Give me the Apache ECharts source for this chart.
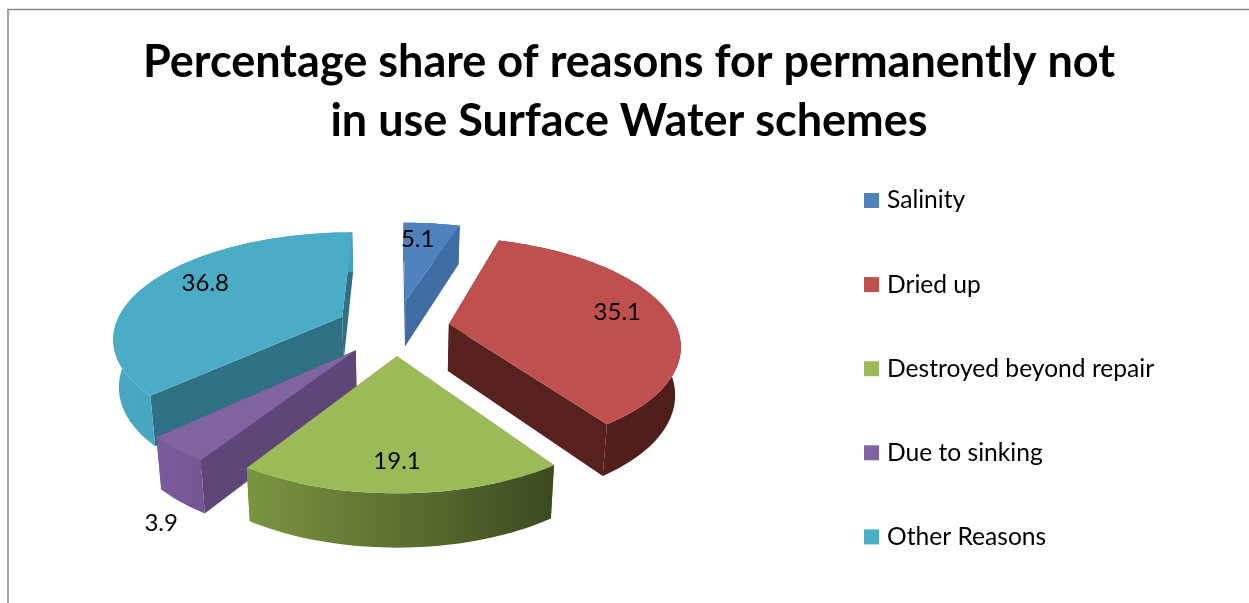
<!DOCTYPE html>
<html>
<head>
<meta charset="utf-8">
<title>Surface Water schemes</title>
<style>
  html, body { margin: 0; padding: 0; background: #ffffff; }
  #chart { width: 1249px; height: 603px; }
</style>
<script src="https://cdn.jsdelivr.net/npm/echarts@6/dist/echarts.min.js"></script>
</head>
<body>
<div id="chart"></div>
<script>
// chart data
var categories = ['Salinity', 'Dried up', 'Destroyed beyond repair', 'Due to sinking', 'Other Reasons'];
var shares = [5.1, 35.1, 19.1, 3.9, 36.8];
var chartTitle = 'Percentage share of reasons for permanently not\nin use Surface Water schemes';

// slice colours
var topColors = ['#4F81BD', '#C0504D', '#9BBB59', '#8064A2', '#4BACC6'];
var cutColors = ['#3F6CA3', '#57211E', '#6F8A3E', '#5F4679', '#2F7085'];
var rimColorsLeft = ['#3F6CA3', '#5C2320', '#7A9640', '#7A5B9C', '#48A8C1'];
var rimColorsRight = ['#3F6CA3', '#4E1D1A', '#3C4A1F', '#745694', '#44A2BB'];

// label placement along each slice's middle direction, 1 = rim
var labelReach = [0.6, 0.73, 0.72, 1.26, 0.65];
var labelOnBase = [0, 0, 0, 1, 0];
var labelNudge = [[-5, -11], [9, -1], [-3, 10], [32, -10], [-13, -8]];

// how far each slice is pulled out of the pie
var explode = [0.265, 0.236, 0.25, 0.262, 0.262];

// paint order, back slices first
var paintOrder = [0, 4, 1, 3, 2];

// projection of the tilted pie
var CX = 396, CY = 328;
var RX = 228, RY = 108;
var DEPTH = 47;
var PERSPECTIVE = 0.18;
var TAPER = 0.02;

var total = 0;
for (var i = 0; i < shares.length; i++) {
  total += shares[i];
}

function project(u, v, h) {
  var s = (1 + PERSPECTIVE * v) * (1 - TAPER * h);
  return [CX + u * RX * s, CY + v * RY * s + h * DEPTH * (1 + PERSPECTIVE * v)];
}

function sliceAngles(index) {
  var sum = 0;
  for (var i = 0; i < index; i++) {
    sum += shares[i];
  }
  var a0 = sum / total * Math.PI * 2;
  var a1 = (sum + shares[index]) / total * Math.PI * 2;
  return [a0, a1];
}

function renderSlice(index, params, api) {
  var angles = sliceAngles(index);
  var a0 = angles[0], a1 = angles[1];
  var mid = (a0 + a1) / 2;
  // the apex is pushed out along the middle of the slice
  var ou = explode[index] * Math.sin(mid);
  var ov = -explode[index] * Math.cos(mid);

  function rimPoint(a, h) {
    return project(ou + Math.sin(a), ov - Math.cos(a), h);
  }
  var steps = Math.max(2, Math.ceil((a1 - a0) / 0.03));
  var topArc = [], baseArc = [];
  for (var k = 0; k <= steps; k++) {
    var a = a0 + (a1 - a0) * k / steps;
    topArc.push(rimPoint(a, 0));
    baseArc.push(rimPoint(a, 1));
  }
  var apexTop = project(ou, ov, 0);
  var apexBase = project(ou, ov, 1);

  var rimFill = new echarts.graphic.LinearGradient(0, 0, 1, 0, [
    { offset: 0, color: rimColorsLeft[index] },
    { offset: 1, color: rimColorsRight[index] }
  ]);

  // cut faces first, the rim and the top face cover their hidden parts
  return {
    type: 'group',
    children: [
      {
        type: 'polygon',
        shape: { points: [apexTop, topArc[0], baseArc[0], apexBase] },
        style: { fill: cutColors[index] }
      },
      {
        type: 'polygon',
        shape: { points: [apexTop, topArc[steps], baseArc[steps], apexBase] },
        style: { fill: cutColors[index] }
      },
      {
        type: 'polygon',
        shape: { points: topArc.concat(baseArc.slice().reverse()) },
        style: { fill: rimFill }
      },
      {
        type: 'polygon',
        shape: { points: [apexTop].concat(topArc) },
        style: { fill: topColors[index] }
      }
    ]
  };
}

// labels go in their own series so no slice paints over them
function renderLabel(params, api) {
  var index = api.value(0);
  var a = sliceAngles(index);
  var mid = (a[0] + a[1]) / 2;
  var ou = (explode[index] + labelReach[index]) * Math.sin(mid);
  var ov = -(explode[index] + labelReach[index]) * Math.cos(mid);
  var p = project(ou, ov, labelOnBase[index]);
  return {
    type: 'text',
    x: p[0] + labelNudge[index][0],
    y: p[1] + labelNudge[index][1],
    style: {
      text: String(api.value(1)),
      fill: '#000000',
      font: '24px Lato',
      align: 'center',
      verticalAlign: 'middle'
    }
  };
}

var chart = echarts.init(document.getElementById('chart'));

var series = [];
for (var n = 0; n < paintOrder.length; n++) {
  (function (index, order) {
    series.push({
      type: 'custom',
      name: categories[index],
      coordinateSystem: 'none',
      z: 2 + order,
      silent: true,
      itemStyle: { color: topColors[index] },
      data: [[shares[index]]],
      renderItem: function (params, api) {
        return renderSlice(index, params, api);
      }
    });
  })(paintOrder[n], n);
}
var labelRows = [];
for (var j = 0; j < shares.length; j++) {
  labelRows.push([j, shares[j]]);
}
series.push({
  type: 'custom',
  coordinateSystem: 'none',
  z: 20,
  silent: true,
  data: labelRows,
  renderItem: renderLabel
});

var option = {
  animation: false,
  backgroundColor: '#ffffff',
  title: {
    text: chartTitle,
    left: 624,
    top: 28,
    textAlign: 'center',
    textStyle: {
      color: '#000000',
      fontFamily: 'Lato',
      fontWeight: 'bold',
      fontSize: 45,
      lineHeight: 59
    }
  },
  legend: {
    data: categories,
    orient: 'vertical',
    left: 864,
    top: 188,
    padding: 0,
    icon: 'rect',
    itemWidth: 15,
    itemHeight: 15,
    itemGap: 59.1,
    selectedMode: false,
    textStyle: {
      color: '#000000',
      fontFamily: 'Lato',
      fontSize: 24.6,
      padding: [0, 0, 0, 3]
    }
  },
  graphic: [
    {
      type: 'polyline',
      silent: true,
      shape: { points: [[8, 603], [8, 9.5], [1249, 9.5]] },
      style: { stroke: '#868686', fill: null, lineWidth: 1.5 }
    }
  ],
  series: series
};

chart.setOption(option);
window.addEventListener('resize', function () {
  chart.resize();
});
</script>
</body>
</html>
